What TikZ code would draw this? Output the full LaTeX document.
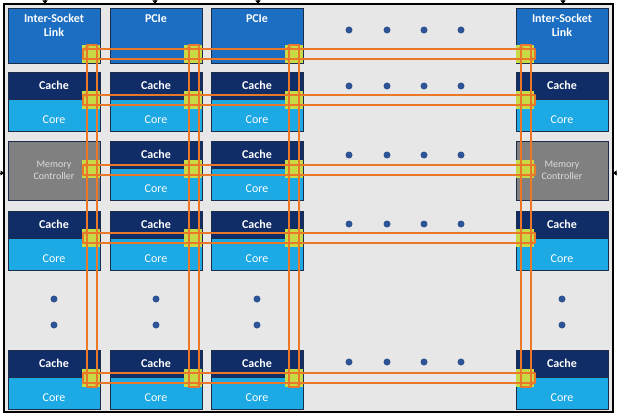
\documentclass[tikz,border=0pt]{standalone}
\usepackage{fontspec}
\setmainfont{Carlito}
\usetikzlibrary{arrows.meta,calc,positioning}
\definecolor{meshgray}{RGB}{231,231,231}
\definecolor{linkblue}{RGB}{27,110,194}
\definecolor{cachenavy}{RGB}{17,45,104}
\definecolor{corecyan}{RGB}{29,169,228}
\definecolor{memgray}{RGB}{128,128,128}
\definecolor{memtext}{RGB}{220,220,220}
\definecolor{stopgreen}{RGB}{200,218,70}
\definecolor{ringorange}{RGB}{234,120,40}
\definecolor{dotblue}{RGB}{46,84,150}
\definecolor{edgedark}{RGB}{28,45,75}

\begin{document}
\begin{tikzpicture}[
        x=1pt, y=-1pt,
        font=\fontsize{12}{14}\selectfont,
        tilebox/.style={
            draw=edgedark,
            line width=0.8pt,
            minimum width=92pt,
            inner sep=0pt,
            text=white
        },
        iobox/.style={
            tilebox,
            fill=linkblue,
            minimum height=55pt
        },
        iotext/.style={
            anchor=north,
            yshift=-3pt,
            align=center,
            text=white,
            font=\fontsize{12}{14}\selectfont\bfseries
        },
        cachebox/.style={
            tilebox,
            fill=cachenavy,
            minimum height=27pt,
            font=\fontsize{12}{14}\selectfont\bfseries
        },
        corebox/.style={
            tilebox,
            fill=corecyan,
            minimum height=32pt,
            text height=17pt,
            text depth=0pt
        },
        membox/.style={
            tilebox,
            fill=memgray,
            minimum height=59pt,
            align=center,
            text=memtext,
            font=\fontsize{10}{12}\selectfont
        },
        stopbox/.style={
            fill=stopgreen,
            minimum size=18pt,
            inner sep=0pt
        },
        ring/.style={
            draw=ringorange,
            line width=2pt,
            line join=round
        },
        ringtip/.style={
            ring,
            -{Stealth[length=4.5pt,width=5.5pt]}
        },
        port/.style={
            line width=1pt,
            -{Triangle[length=3.5pt,width=5pt]}
        }
    ]

        \useasboundingbox[fill=white] (0,0) rectangle (617,417);

        % Nền của lưới
        \draw[line width=1.5pt,fill=meshgray] (4,4) rectangle (613,412);

        % Cổng ra ngoài
        \foreach \x [count=\i] in {45,155,258,563} {
            \coordinate (port-\i) at (\x,0);
            \draw[port] (port-\i) -- (\x,4);
        }
        \coordinate (port-w) at (0,173);
        \coordinate (port-e) at (617,173);
        \draw[port] (port-w) -- (4,173);
        \draw[port] (port-e) -- (613,173);

        % Hàng trên: liên kết và PCIe
        \node[iobox,label={[iotext]north:{Inter-Socket\\Link}}] (link-w) at (54,35.5) {};
        \node[iobox,label={[iotext]north:PCIe}] (pcie-1) at (156,35.5) {};
        \node[iobox,label={[iotext]north:PCIe}] (pcie-2) at (257,35.5) {};
        \node[iobox,label={[iotext]north:{Inter-Socket\\Link}}] (link-e) at (562,35.5) {};

        % Bộ điều khiển bộ nhớ
        \node[membox] (mem-w) at (54,170.5) {Memory\\Controller};
        \node[membox] (mem-e) at (562,170.5) {Memory\\Controller};

        % Các lõi: cache ở trên, core ở dưới
        \foreach \c/\x in {1/54,2/156,3/257,4/562} {
            \foreach \r/\s in {2/99,4/238,5/377} {
                \node[cachebox] (cache-\c-\r) at (\x,\s-13.5) {Cache};
                \node[corebox] (core-\c-\r) at (\x,\s+16) {Core};
            }
        }
        \foreach \c/\x in {2/156,3/257} {
            \node[cachebox] (cache-\c-3) at (\x,154.5) {Cache};
            \node[corebox] (core-\c-3) at (\x,184) {Core};
        }

        % Điểm dừng của vòng
        \foreach \c/\sx in {1/91,2/193,3/294,4/525} {
            \foreach \r/\sy in {1/54,2/100,3/169,4/238,5/378} {
                \node[stopbox] (sq-\c-\r) at (\sx,\sy) {};
            }
        }

        % Vòng ngang theo hàng
        \foreach \r/\ya/\yb in {1/49/59,2/95/105,3/165/175,4/233/243,5/373/383} {
            \coordinate (h\r-wt) at (83,\ya);
            \coordinate (h\r-wb) at (83,\yb);
            \coordinate (h\r-et) at (535,\ya);
            \coordinate (h\r-eb) at (535,\yb);
            \draw[ring] (h\r-wt) -- (h\r-et) -- (h\r-eb) -- (h\r-wb) -- cycle;
            \draw[ringtip] (h\r-et) -- (h\r-wt);
            \draw[ringtip] (h\r-wb) -- (h\r-eb);
        }

        % Vòng dọc theo cột
        \foreach \c/\xa/\xb in {1/87/97,2/189/199,3/289/299,4/521/531} {
            \coordinate (v\c-lt) at (\xa,45);
            \coordinate (v\c-rt) at (\xb,45);
            \coordinate (v\c-lb) at (\xa,387);
            \coordinate (v\c-rb) at (\xb,387);
            \draw[ring] (v\c-lt) -- (v\c-rt) -- (v\c-rb) -- (v\c-lb) -- cycle;
            \draw[ringtip] (v\c-lb) -- (v\c-lt);
            \draw[ringtip] (v\c-rt) -- (v\c-rb);
        }

        % Dấu chấm lửng
        \foreach \x in {349,387,424,461} {
            \foreach \y in {30,86,155,224,362} {
                \fill[dotblue] (\x,\y) circle (3.5);
            }
        }
        \foreach \x in {54,156,257,562} {
            \foreach \y in {299,325} {
                \fill[dotblue] (\x,\y) circle (3.5);
            }
        }

    \end{tikzpicture}
\end{document}
